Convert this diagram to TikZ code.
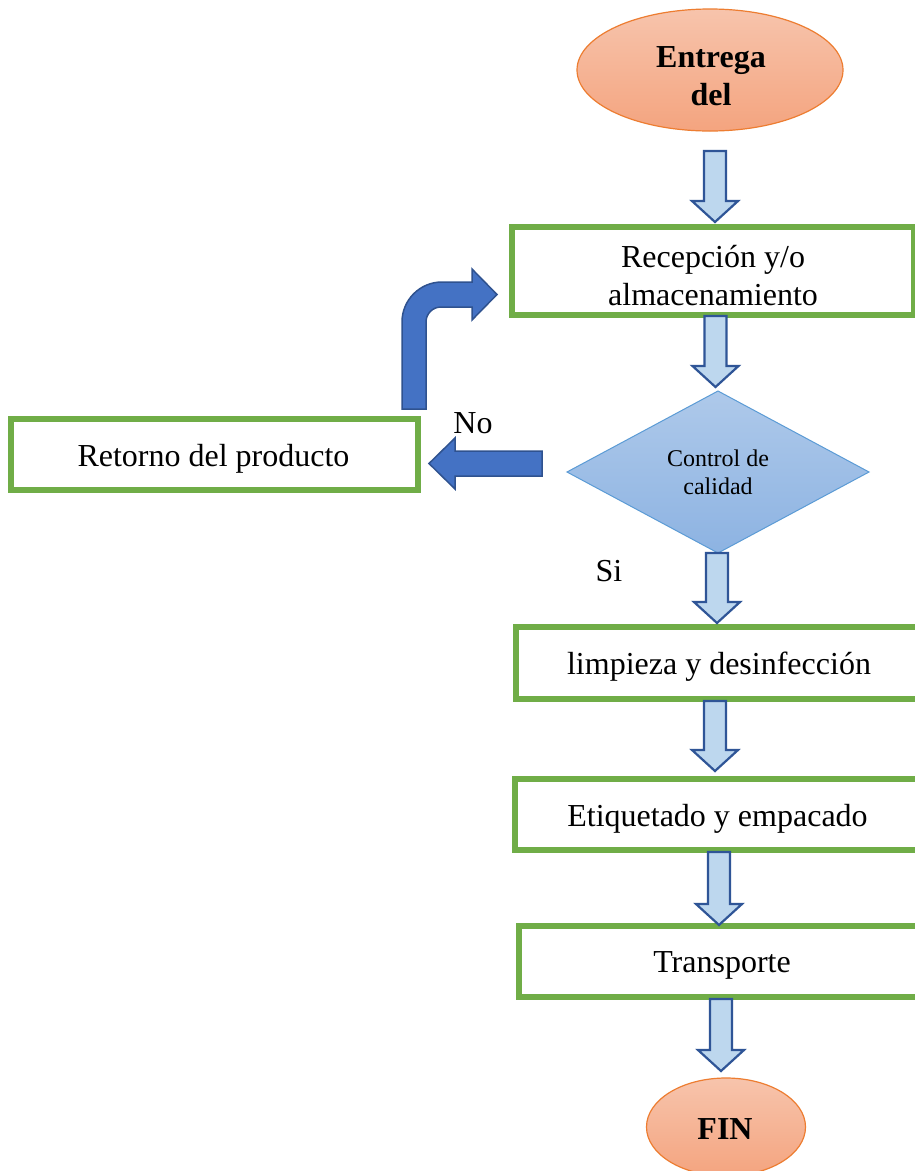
\documentclass[tikz,border=0pt]{standalone}
\usepackage{fontspec}
\setmainfont{Liberation Serif}
\usetikzlibrary{shapes.geometric,calc}
\definecolor{boxgreen}{HTML}{70AD47}
\definecolor{arrowfill}{HTML}{BDD7EE}
\definecolor{arrowline}{HTML}{2F5597}
\definecolor{darkfill}{HTML}{4472C4}
\definecolor{darkline}{HTML}{2F528F}
\definecolor{diatop}{HTML}{AEC9EA}
\definecolor{diabot}{HTML}{8DB3E2}
\definecolor{dialine}{HTML}{5B9BD5}
\definecolor{ovtop}{HTML}{F7C4AC}
\definecolor{ovbot}{HTML}{F4A47F}
\definecolor{ovline}{HTML}{ED7D31}
% straight down block arrow: from node #1 to node #2, centre x #3, gap below #1 = #4, gap above #2 = #5
\newcommand\DArrow[5]{%
  \draw[lightarrow] let \p1=(#1.south), \p2=(#2.north), \p3=(#3,0) in
    (\x3-11pt,\y1-#4pt) -- (\x3+11pt,\y1-#4pt) -- (\x3+11pt,\y2+#5pt+21pt)
    -- (\x3+23pt,\y2+#5pt+21pt) -- (\x3,\y2+#5pt) -- (\x3-23pt,\y2+#5pt+21pt)
    -- (\x3-11pt,\y2+#5pt+21pt) -- cycle;}
\begin{document}
\begin{tikzpicture}[x=1pt,y=-1pt,
  box/.style={draw=boxgreen, line width=5.5pt, rectangle, fill=white, inner sep=0pt,
    outer sep=0pt},
  oval/.style={ellipse, draw=ovline, line width=1.2pt, top color=ovtop, bottom color=ovbot,
    inner sep=0pt, outer sep=0pt},
  bigtext/.style={font=\fontsize{32}{38}\selectfont, align=center, inner sep=0pt},
  lightarrow/.style={draw=arrowline, fill=arrowfill, line width=2.2pt, line join=miter},
  darkarrow/.style={draw=darkline, fill=darkfill, line width=1.5pt, line join=miter}]
\useasboundingbox (0,0) rectangle (915,1171);
\clip (0,0) rectangle (915,1171);
\fill[white] (0,0) rectangle (915,1171);

% shapes
\node[oval, minimum width=266pt, minimum height=122pt] (start) at (710,70) {};
\node[box, minimum width=402pt, minimum height=88pt] (recep) at (713,271) {};
\node[diamond, aspect=1.864, minimum width=302pt, minimum height=162pt, inner sep=0pt, outer sep=0pt,
  draw=dialine, line width=1pt, top color=diatop, bottom color=diabot,
  font=\fontsize{24}{28}\selectfont, align=center] (control) at (718,472) {Control de\\calidad};
\node[box, minimum width=407pt, minimum height=71pt] (retorno) at (214.5,454.5) {};
\node[box, minimum width=406pt, minimum height=72pt] (limp) at (719,663) {};
\node[box, minimum width=405pt, minimum height=71pt] (etiq) at (717.5,814.5) {};
\node[box, minimum width=406pt, minimum height=71pt] (trans) at (722,961.5) {};
\node[oval, minimum width=159pt, minimum height=98pt] (fin) at (726,1127) {};

% texts
\node[bigtext, font=\fontsize{32}{38}\selectfont\bfseries] (startlbl) at ($(start.center)+(1,6)$) {Entrega\\del};
\node[bigtext] (recepl) at ($(recep.center)+(0,5)$) {Recepción y/o\\almacenamiento};
\node[bigtext] (retornol) at ($(retorno.center)+(-1,4)$) {Retorno del producto};
\node[bigtext] (limpl) at ($(limp.center)+(0,4)$) {limpieza y desinfección};
\node[bigtext] (etiql) at ($(etiq.center)+(0,4)$) {Etiquetado y empacado};
\node[bigtext] (transl) at ($(trans.center)+(0,4)$) {Transporte};
\node[bigtext, font=\fontsize{32}{38}\selectfont\bfseries] (finl) at ($(fin.center)+(-1,2)$) {FIN};
\node[bigtext] (nolbl) at (473,423) {No};
\node[bigtext] (silbl) at (609,571) {Si};

% straight block arrows
\DArrow{start}{recep}{715}{20}{5}
\DArrow{recep}{control}{715.5}{1}{4}
\DArrow{control}{limp}{717}{0}{4}
\DArrow{limp}{etiq}{715}{2}{8}
\DArrow{etiq}{trans}{719}{2}{1}
\DArrow{trans}{fin}{721}{2}{7}

% "No" arrow: from control to retorno
\draw[darkarrow] let \p1=(control.west), \p2=(retorno.east) in
  (\x1-25pt,\y1+21pt) -- (\x2+37pt,\y1+21pt) -- (\x2+37pt,\y1+34pt) -- (\x2+11pt,\y1+8.5pt)
  -- (\x2+37pt,\y1-17pt) -- (\x2+37pt,\y1-4pt) -- (\x1-25pt,\y1-4pt) -- cycle;

% bent arrow: from retorno up and right to recep
\draw[darkarrow] (402,409) -- (402,322) arc[start angle=180, end angle=270, radius=40]
  -- (472,282) -- (472,269) -- (497,294.5) -- (472,320) -- (472,307) -- (441,307)
  arc[start angle=270, end angle=180, radius=15] -- (426,409) -- cycle;
\end{tikzpicture}
\end{document}
